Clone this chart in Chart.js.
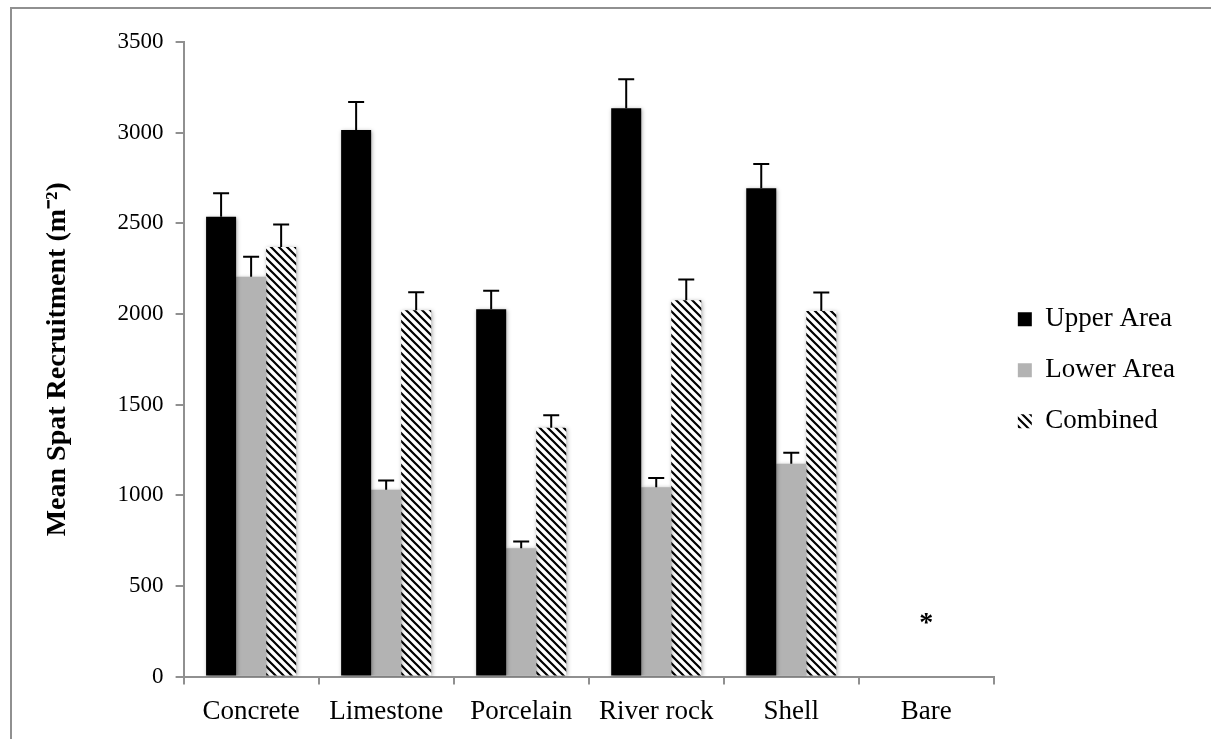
<!DOCTYPE html>
<html>
<head>
<meta charset="utf-8">
<script src="https://cdn.jsdelivr.net/npm/chart.js@4"></script>
<style>
	html, body { margin: 0; padding: 0; background: #fff; overflow: hidden; }
	#wrap { position: relative; width: 1211px; height: 739px; }
	#frame {
		position: absolute; left: 10px; top: 7px; width: 1300px; height: 800px;
		border-left: 2px solid #909090; border-top: 2px solid #909090;
		pointer-events: none;
	}
</style>
</head>
<body>
<div id="wrap">
	<canvas id="spatChart" width="1211" height="739"></canvas>
	<div id="frame"></div>
</div>
<script>
var categories = ['Concrete', 'Limestone', 'Porcelain', 'River rock', 'Shell', 'Bare'];

var upperArea = [2536, 3015, 2026, 3134, 2693, 0];
var upperErr = [130, 154, 102, 160, 134, 0];

var lowerArea = [2205, 1031, 708, 1045, 1174, 0];
var lowerErr = [110, 51, 37, 50, 61, 0];

var combined = [2370, 2020, 1373, 2076, 2017, 0];
var combinedErr = [124, 100, 68, 114, 102, 0];

// significance markers above each group
var markers = ['', '', '', '', '', '*'];

var serif = "'Liberation Serif', 'Times New Roman', serif";

// diagonal hatch for the "Combined" series
function makeHatch() {
	var c = document.createElement('canvas');
	c.width = 8;
	c.height = 8;
	var g = c.getContext('2d');
	g.fillStyle = '#fff';
	g.fillRect(0, 0, 8, 8);
	g.strokeStyle = '#000';
	g.lineWidth = 2.2;
	g.beginPath();
	g.moveTo(-2, -2); g.lineTo(10, 10);
	g.moveTo(-2, 6); g.lineTo(2, 10);
	g.moveTo(6, -2); g.lineTo(10, 2);
	g.stroke();
	return document.getElementById('spatChart').getContext('2d').createPattern(c, 'repeat');
}

var hatch = makeHatch();

var errorBars = {
	id: 'errorBars',
	afterDatasetsDraw: function (chart) {
		var ctx = chart.ctx;
		var y = chart.scales.y;
		ctx.save();
		ctx.strokeStyle = '#000';
		ctx.lineWidth = 2;
		chart.data.datasets.forEach(function (ds, i) {
			var meta = chart.getDatasetMeta(i);
			meta.data.forEach(function (bar, j) {
				var err = ds.errors[j];
				if (!err) return;
				var top = y.getPixelForValue(ds.data[j] + err);
				ctx.beginPath();
				ctx.moveTo(bar.x, bar.y);
				ctx.lineTo(bar.x, top);
				ctx.moveTo(bar.x - 8, top);
				ctx.lineTo(bar.x + 8, top);
				ctx.stroke();
			});
		});
		// markers
		ctx.fillStyle = '#000';
		ctx.font = 'bold 28px ' + serif;
		ctx.textAlign = 'center';
		ctx.textBaseline = 'middle';
		var x = chart.scales.x;
		markers.forEach(function (m, j) {
			if (!m) return;
			var h = Math.max(upperArea[j] + upperErr[j], lowerArea[j] + lowerErr[j], combined[j] + combinedErr[j]);
			ctx.fillText(m, x.getPixelForValue(j), y.getPixelForValue(h + 290));
		});
		ctx.restore();
	}
};

var barShadow = {
	id: 'barShadow',
	beforeDatasetDraw: function (chart) {
		var ctx = chart.ctx;
		ctx.save();
		ctx.shadowColor = 'rgba(0,0,0,0.35)';
		ctx.shadowBlur = 4;
		ctx.shadowOffsetX = 1;
		ctx.shadowOffsetY = 1;
	},
	afterDatasetDraw: function (chart) {
		chart.ctx.restore();
	}
};

var chart = new Chart(document.getElementById('spatChart'), {
	type: 'bar',
	data: {
		labels: categories,
		datasets: [{
			label: 'Upper Area',
			data: upperArea,
			errors: upperErr,
			backgroundColor: '#000'
		}, {
			label: 'Lower Area',
			data: lowerArea,
			errors: lowerErr,
			backgroundColor: '#b3b3b3'
		}, {
			label: 'Combined',
			data: combined,
			errors: combinedErr,
			backgroundColor: hatch
		}]
	},
	options: {
		responsive: false,
		animation: false,
		layout: {
			padding: { left: 41, right: 26, top: 42, bottom: 0 }
		},
		datasets: {
			bar: {
				categoryPercentage: 0.667,
				barPercentage: 1,
				borderWidth: 0
			}
		},
		plugins: {
			tooltip: { enabled: false },
			legend: {
				position: 'right',
				align: 'center',
				fullSize: false,
				// empty title only nudges the items down a little
				title: {
					display: true,
					text: '',
					font: { size: 10 },
					padding: 5
				},
				labels: {
					color: '#000',
					font: { family: serif, size: 27 },
					boxWidth: 14,
					boxHeight: 14,
					padding: 24
				}
			}
		},
		scales: {
			x: {
				grid: {
					display: true,
					drawOnChartArea: false,
					offset: true,
					tickLength: 8,
					color: '#909090',
					lineWidth: 2
				},
				border: { color: '#909090', width: 2 },
				ticks: {
					color: '#000',
					font: { family: serif, size: 27 },
					padding: 11,
					maxRotation: 0
				}
			},
			y: {
				min: 0,
				max: 3500,
				grid: {
					drawOnChartArea: false,
					tickLength: 8,
					color: '#909090',
					lineWidth: 2
				},
				border: { color: '#909090', width: 2 },
				ticks: {
					stepSize: 500,
					color: '#000',
					font: { family: serif, size: 23 },
					padding: 12,
					callback: function (v) { return String(v); }
				},
				title: {
					display: true,
					text: 'Mean Spat Recruitment (m\u207B\u00B2)',
					color: '#000',
					font: { family: serif, size: 28, weight: 'bold' },
					padding: { top: 0, bottom: 31 }
				}
			}
		}
	},
	plugins: [barShadow, errorBars]
});
</script>
</body>
</html>
